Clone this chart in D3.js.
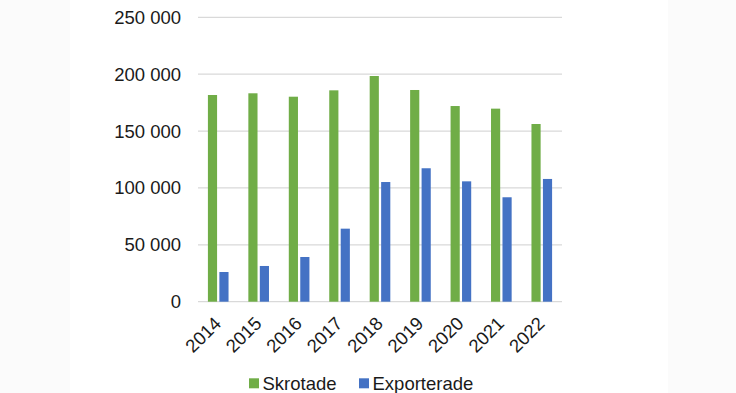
<!doctype html>
<html>
<head>
<meta charset="utf-8">
<script src="https://cdn.jsdelivr.net/npm/d3@7"></script>
<style>
  html, body { margin: 0; padding: 0; background: #fbfbfb; }
  svg { display: block; font-family: "Liberation Sans", Arial, sans-serif; }
</style>
</head>
<body>
<script>
// Data.
const years = ["2014", "2015", "2016", "2017", "2018", "2019", "2020", "2021", "2022"];
const skrotade = [181700, 183200, 180200, 185800, 198400, 186100, 172000, 169700, 156200];
const exporterade = [26100, 31400, 39300, 64200, 105200, 117300, 105800, 91800, 107900];
const seriesNames = ["Skrotade", "Exporterade"];
const seriesColors = ["#70ad47", "#4472c4"];
const yTicks = [0, 50000, 100000, 150000, 200000, 250000];

const width = 736;
const height = 393;
const marginLeft = 198;
const marginRight = 174;
const marginTop = 17.3;
const marginBottom = 91.3;

const svg = d3.select("body").append("svg")
    .attr("width", width)
    .attr("height", height)
    .attr("viewBox", [0, 0, width, height]);

// White page panel over a faint grey surround.
svg.append("rect")
    .attr("x", 70).attr("y", 0)
    .attr("width", 598).attr("height", height)
    .attr("fill", "#fff");

const x0 = d3.scaleBand(years, [marginLeft, width - marginRight])
    .paddingInner(0.49)
    .paddingOuter(0.245);

const x1 = d3.scaleBand(seriesNames, [0, x0.bandwidth()])
    .paddingInner(0.2);

const y = d3.scaleLinear([0, 250000], [height - marginBottom, marginTop]);

const fmt = (d) => d3.format(",")(d).replace(/,/g, " ");

// Grid lines.
svg.append("g")
    .attr("stroke", "#d9d9d9")
    .attr("stroke-width", 1.3)
  .selectAll("line")
  .data(yTicks)
  .join("line")
    .attr("x1", marginLeft)
    .attr("x2", width - marginRight)
    .attr("y1", (d) => y(d))
    .attr("y2", (d) => y(d));

// Y labels.
svg.append("g")
    .attr("font-size", 18.5)
    .attr("fill", "#1a1a1a")
    .attr("text-anchor", "end")
  .selectAll("text")
  .data(yTicks)
  .join("text")
    .attr("x", 181)
    .attr("y", (d) => y(d))
    .attr("dy", "0.35em")
    .text(fmt);

// Bars.
const rows = years.map((yr, i) => ({year: yr, values: [skrotade[i], exporterade[i]]}));

svg.append("g")
  .selectAll("g")
  .data(rows)
  .join("g")
    .attr("transform", (d) => `translate(${x0(d.year)},0)`)
  .selectAll("rect")
  .data((d) => d.values.map((v, j) => ({name: seriesNames[j], value: v, color: seriesColors[j]})))
  .join("rect")
    .attr("x", (d) => x1(d.name))
    .attr("width", x1.bandwidth())
    .attr("y", (d) => y(d.value))
    .attr("height", (d) => y(0) - y(d.value))
    .attr("fill", (d) => d.color);

// Rotated year labels.
svg.append("g")
    .attr("font-size", 18.5)
    .attr("fill", "#1a1a1a")
    .attr("text-anchor", "end")
  .selectAll("text")
  .data(years)
  .join("text")
    .attr("transform", (d) => `translate(${x0(d) + x0.bandwidth() / 2 + 4},${y(0) + 23}) rotate(-45)`)
    .text((d) => d);

// Legend.
const legend = svg.append("g")
    .attr("font-size", 18.5)
    .attr("fill", "#1a1a1a");

const legendX = [249, 359];
seriesNames.forEach((name, i) => {
  legend.append("rect")
      .attr("x", legendX[i]).attr("y", 378.3)
      .attr("width", 10).attr("height", 10)
      .attr("fill", seriesColors[i]);
  legend.append("text")
      .attr("x", legendX[i] + 13.5)
      .attr("y", 389.5)
      .text(name);
});
</script>
</body>
</html>
